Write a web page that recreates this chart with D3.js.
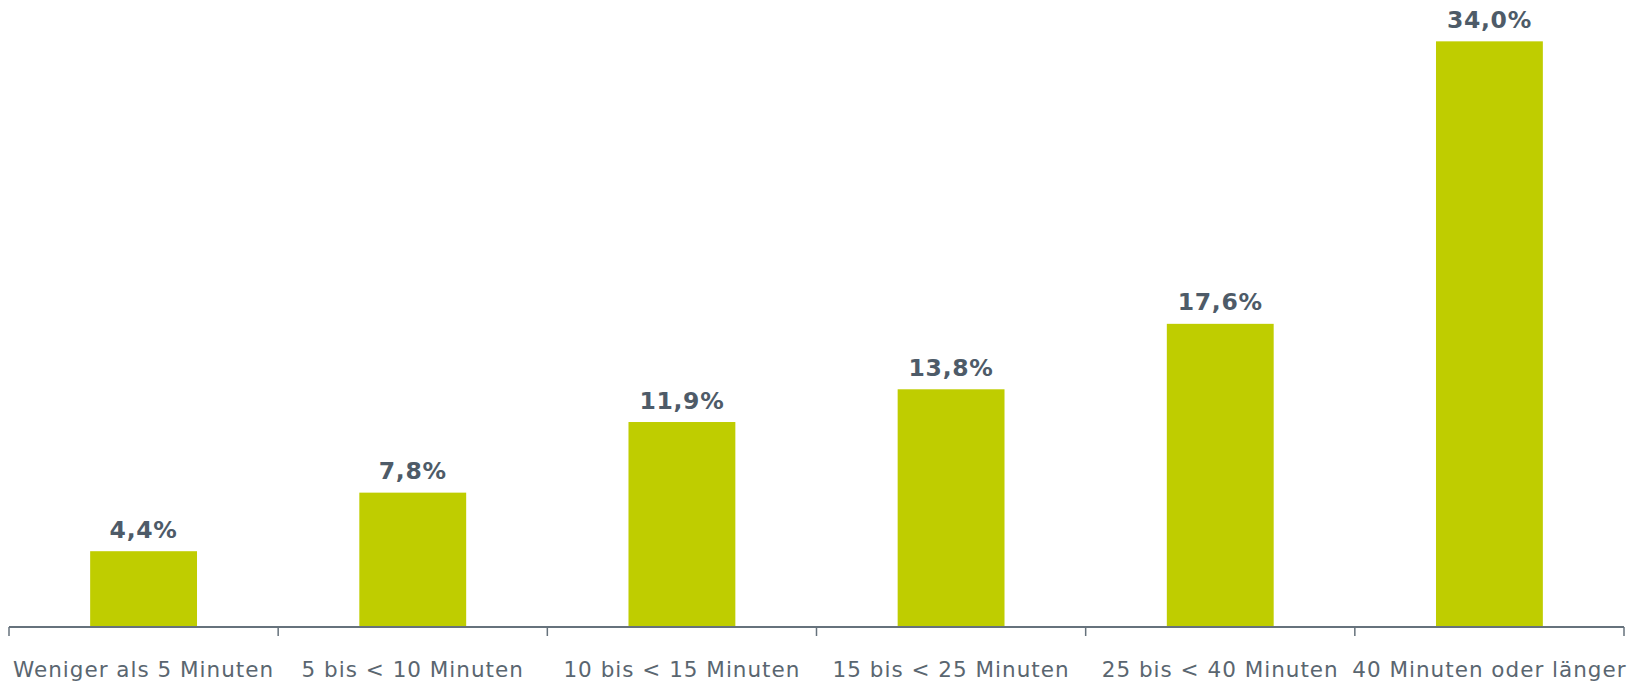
<!DOCTYPE html>
<html><head><meta charset="utf-8">
<script src="https://cdn.jsdelivr.net/npm/d3@7"></script>
<style>body{margin:0;background:#fff;}svg{display:block;}</style>
</head><body>
<svg id="chart" width="1642" height="683"></svg>
<script>
const categories = ["Weniger als 5 Minuten","5 bis < 10 Minuten","10 bis < 15 Minuten","15 bis < 25 Minuten","25 bis < 40 Minuten","40 Minuten oder länger"];
const values = [4.4, 7.8, 11.9, 13.8, 17.6, 34.0];
const valueLabels = ["4,4%","7,8%","11,9%","13,8%","17,6%","34,0%"];

const svg = d3.select("#chart");
const left = 9, right = 1624, baseY = 627;
const x = d3.scaleBand().domain(categories).range([left, right]).paddingInner(0.603).paddingOuter(0.3015);
const y = d3.scaleLinear().domain([0, 36.4]).range([baseY, 0]);

svg.selectAll("rect.bar").data(values).join("rect")
  .attr("class","bar")
  .attr("x",(d,i)=>x(categories[i]))
  .attr("width",x.bandwidth())
  .attr("y",d=>y(d))
  .attr("height",d=>baseY-y(d))
  .attr("fill","#bfcd00");

svg.selectAll("text.val").data(values).join("text")
  .attr("class","val")
  .attr("x",(d,i)=>x(categories[i])+x.bandwidth()/2)
  .attr("y",d=>y(d)-13.5)
  .attr("text-anchor","middle")
  .attr("font-family","Verdana, 'DejaVu Sans', sans-serif")
  .attr("font-weight","bold")
  .attr("font-size","23.5px")
  .attr("letter-spacing","0.7px")
  .attr("fill","#4e5b68")
  .text((d,i)=>valueLabels[i]);

// axis
const xb = d3.scaleLinear().domain([0, categories.length]).range([left, right]);
const g = svg.append("g");
g.append("line").attr("x1",left).attr("x2",right).attr("y1",baseY).attr("y2",baseY)
  .attr("stroke","#66727c").attr("stroke-width",2);
g.selectAll("line.tick").data(d3.range(categories.length+1)).join("line")
  .attr("class","tick")
  .attr("x1",d=>xb(d)).attr("x2",d=>xb(d))
  .attr("y1",baseY).attr("y2",baseY+9)
  .attr("stroke","#66727c").attr("stroke-width",1.5);

svg.selectAll("text.cat").data(categories).join("text")
  .attr("class","cat")
  .attr("x",d=>x(d)+x.bandwidth()/2)
  .attr("y",677)
  .attr("text-anchor","middle")
  .attr("font-family","Verdana, 'DejaVu Sans', sans-serif")
  .attr("font-size","21.5px")
  .attr("letter-spacing","1px")
  .attr("fill","#5a6670")
  .text(d=>d);
</script>
</body></html>
